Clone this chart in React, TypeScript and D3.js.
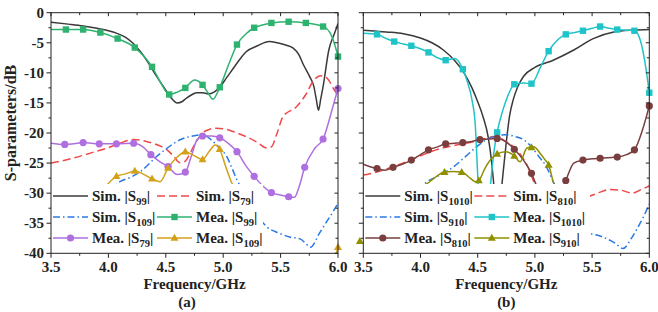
import React from "react";
import * as d3 from "d3";

type P = [number, number];

// ---------- Panel (a) ----------
const simS99: P[] = [[3.5,-1.6],[3.65,-1.9],[3.78,-2.2],[3.9,-2.6],[4.0,-3.0],[4.07,-3.4],[4.15,-4.1],[4.21,-5.0],[4.28,-6.5],[4.36,-8.7],[4.42,-10.6],[4.48,-12.3],[4.54,-14.0],[4.6,-15.0],[4.64,-14.8],[4.68,-14.2],[4.73,-13.6],[4.77,-13.3],[4.82,-13.3],[4.87,-13.5],[4.92,-13.2],[4.97,-12.4],[5.03,-10.8],[5.09,-9.2],[5.15,-7.6],[5.2,-6.5],[5.3,-5.5],[5.4,-4.8],[5.47,-5.0],[5.55,-5.4],[5.61,-5.9],[5.66,-7.0],[5.7,-8.7],[5.75,-10.5],[5.79,-12.3],[5.81,-14.3],[5.83,-16.2],[5.85,-14.3],[5.87,-12.3],[5.92,-6.2],[5.97,-3.4],[6.0,-1.8]];
const simS79: P[] = [[3.5,-25.0],[3.69,-24.2],[3.85,-23.3],[3.99,-22.5],[4.1,-21.7],[4.22,-21.1],[4.33,-21.4],[4.43,-22.0],[4.51,-22.8],[4.57,-23.9],[4.62,-24.9],[4.66,-24.8],[4.7,-23.8],[4.74,-22.3],[4.78,-21.0],[4.82,-20.0],[4.88,-19.4],[4.94,-19.2],[5.03,-19.4],[5.12,-20.0],[5.2,-20.6],[5.3,-21.6],[5.38,-22.5],[5.42,-22.3],[5.47,-20.0],[5.52,-17.3],[5.64,-15.6],[5.72,-13.6],[5.79,-11.2],[5.85,-10.5],[5.9,-10.8],[5.96,-12.6],[6.0,-13.8]];
const simS109: P[] = [[4.0,-29.8],[4.1,-28.1],[4.2,-27.3],[4.28,-26.4],[4.35,-25.2],[4.42,-23.9],[4.5,-22.7],[4.57,-21.7],[4.64,-21.0],[4.71,-20.6],[4.8,-20.3],[4.86,-20.6],[4.91,-21.4],[4.97,-22.5],[5.03,-23.9],[5.08,-26.0],[5.12,-27.8],[5.2,-30.5],[5.3,-33.8],[5.38,-35.6],[5.48,-36.6],[5.58,-37.3],[5.67,-37.6],[5.72,-38.4],[5.76,-39.0],[5.84,-36.6],[5.92,-34.2],[5.96,-33.0],[6.0,-31.7]];
const meaS99: P[] = [[3.5,-2.8],[3.63,-2.8],[3.78,-2.8],[3.93,-3.3],[4.08,-4.3],[4.23,-5.8],[4.38,-9.0],[4.46,-11.8],[4.53,-13.6],[4.6,-13.2],[4.67,-12.5],[4.75,-11.2],[4.82,-12.0],[4.87,-13.4],[4.91,-14.4],[4.97,-12.4],[5.05,-8.5],[5.12,-5.3],[5.2,-3.5],[5.27,-2.5],[5.35,-2.0],[5.42,-1.7],[5.57,-1.5],[5.72,-1.7],[5.87,-2.3],[5.93,-3.3],[5.97,-5.2],[6.0,-7.3]];
const meaS99Marks: P[] = [[3.63,-2.8],[3.78,-2.8],[3.93,-3.3],[4.08,-4.3],[4.23,-5.8],[4.38,-9.0],[4.53,-13.6],[4.67,-12.5],[4.82,-12.0],[4.97,-12.4],[5.12,-5.3],[5.27,-2.5],[5.42,-1.7],[5.57,-1.5],[5.72,-1.7],[5.87,-2.3],[6.0,-7.3]];
const meaS79: P[] = [[3.5,-21.7],[3.62,-21.9],[3.7,-21.8],[3.78,-21.6],[3.92,-21.8],[4.07,-21.8],[4.22,-21.7],[4.3,-22.3],[4.37,-23.6],[4.45,-24.8],[4.52,-25.6],[4.6,-26.9],[4.67,-26.5],[4.72,-24.0],[4.77,-21.2],[4.82,-20.5],[4.9,-20.5],[4.97,-20.8],[5.05,-21.8],[5.12,-23.1],[5.2,-25.5],[5.27,-27.2],[5.35,-28.9],[5.42,-29.9],[5.5,-30.3],[5.57,-30.6],[5.62,-30.7],[5.66,-29.0],[5.71,-25.7],[5.8,-22.5],[5.87,-21.0],[5.95,-16.0],[6.0,-12.6]];
const meaS79Marks: P[] = [[3.62,-21.9],[3.78,-21.6],[3.92,-21.8],[4.07,-21.8],[4.22,-21.7],[4.37,-23.6],[4.52,-25.6],[4.67,-26.5],[4.82,-20.5],[4.97,-20.8],[5.12,-23.1],[5.27,-27.2],[5.42,-29.9],[5.57,-30.6],[5.71,-25.7],[5.87,-21.0],[6.0,-12.6]];
const meaS109: P[] = [[3.95,-29.5],[4.07,-27.2],[4.15,-26.8],[4.23,-26.3],[4.3,-26.8],[4.38,-27.6],[4.45,-28.1],[4.52,-25.8],[4.6,-24.0],[4.67,-23.1],[4.75,-23.8],[4.82,-24.4],[4.88,-23.0],[4.93,-22.0],[4.97,-22.7],[5.02,-25.5],[5.07,-28.1],[5.15,-31.0],[5.25,-35.5],[5.35,-40.5],[5.45,-44],[5.9,-44],[6.0,-39.0]];
const meaS109Marks: P[] = [[4.07,-27.2],[4.23,-26.3],[4.38,-27.6],[4.52,-25.8],[4.67,-23.1],[4.82,-24.4],[4.97,-22.7],[5.12,-30.0],[6.0,-39.0]];

// ---------- Panel (b) ----------
const simS1010: P[] = [[3.5,-2.9],[3.7,-3.2],[3.85,-3.5],[4.0,-4.2],[4.1,-5.0],[4.2,-6.2],[4.3,-8.0],[4.38,-10.0],[4.45,-12.5],[4.5,-14.8],[4.55,-17.5],[4.59,-20.5],[4.62,-24.5],[4.65,-31],[4.67,-38],[4.69,-33],[4.72,-27],[4.75,-21.5],[4.78,-17],[4.81,-14.5],[4.85,-12.3],[4.9,-10.6],[5.0,-9.1],[5.16,-7.9],[5.34,-6.2],[5.51,-4.3],[5.69,-3.2],[5.86,-2.9],[6.0,-2.8]];
const simS810: P[] = [[3.5,-27.0],[3.6,-26.6],[3.76,-25.6],[3.9,-24.6],[4.05,-23.4],[4.17,-22.6],[4.29,-22.1],[4.4,-21.7],[4.49,-21.3],[4.57,-20.9],[4.64,-20.6],[4.72,-21.1],[4.78,-21.8],[4.84,-22.8],[4.89,-24.0],[4.93,-25.3],[4.99,-28.1],[5.05,-31],[5.15,-33],[5.3,-33],[5.4,-31.5],[5.45,-30.8],[5.55,-30.0],[5.65,-29.4],[5.75,-29.5],[5.85,-30.0],[5.93,-29.4],[6.0,-28.8]];
const simS910: P[] = [[3.8,-33],[3.95,-30],[4.05,-28.2],[4.17,-27],[4.29,-25.6],[4.4,-23.8],[4.49,-22.3],[4.57,-21.2],[4.64,-20.6],[4.75,-20.3],[4.83,-20.6],[4.9,-21.1],[4.97,-22.3],[5.03,-23.8],[5.1,-25.6],[5.16,-28.1],[5.25,-31.5],[5.35,-34.5],[5.47,-36.6],[5.55,-37.0],[5.63,-37.6],[5.7,-38.3],[5.77,-39.2],[5.85,-37.3],[5.92,-35.0],[5.96,-33.5],[6.0,-31.8]];
const meaS1010: P[] = [[3.5,-3.4],[3.62,-3.6],[3.7,-4.3],[3.77,-4.8],[3.85,-5.2],[3.92,-5.5],[4.0,-6.0],[4.07,-6.6],[4.15,-7.5],[4.22,-7.9],[4.3,-7.6],[4.37,-9.4],[4.41,-11.5],[4.45,-14.5],[4.48,-19],[4.5,-27],[4.52,-34],[4.56,-38],[4.59,-33],[4.62,-27],[4.64,-23.4],[4.67,-19.9],[4.72,-16.2],[4.78,-13.1],[4.82,-11.9],[4.9,-11.7],[4.97,-11.8],[5.05,-9.0],[5.12,-6.4],[5.2,-4.5],[5.27,-3.6],[5.35,-3.3],[5.42,-3.0],[5.5,-2.6],[5.57,-2.3],[5.65,-2.6],[5.72,-2.8],[5.8,-2.9],[5.87,-3.0],[5.92,-4.5],[5.96,-8.0],[6.0,-13.3]];
const meaS1010Marks: P[] = [[3.62,-3.6],[3.77,-4.8],[3.92,-5.5],[4.07,-6.6],[4.22,-7.9],[4.37,-9.4],[4.52,-34],[4.67,-19.9],[4.82,-11.9],[4.97,-11.8],[5.12,-6.4],[5.27,-3.6],[5.42,-3.0],[5.57,-2.3],[5.72,-2.8],[5.87,-3.0],[6.0,-13.3]];
const meaS810: P[] = [[3.5,-25.2],[3.56,-25.6],[3.62,-25.9],[3.69,-26.2],[3.76,-25.7],[3.84,-25.2],[3.92,-24.5],[4.0,-23.6],[4.07,-22.8],[4.15,-22.3],[4.22,-21.8],[4.3,-21.7],[4.37,-21.6],[4.45,-21.4],[4.52,-21.1],[4.6,-21.0],[4.67,-20.9],[4.75,-21.5],[4.82,-22.7],[4.9,-24.5],[4.97,-26.7],[5.03,-29.5],[5.1,-32],[5.2,-31],[5.27,-27.9],[5.34,-25.0],[5.42,-24.5],[5.5,-24.3],[5.57,-24.2],[5.64,-24.1],[5.72,-24.0],[5.8,-23.6],[5.87,-22.8],[5.94,-19.5],[6.0,-15.5]];
const meaS810Marks: P[] = [[3.62,-25.9],[3.76,-25.7],[3.92,-24.5],[4.07,-22.8],[4.22,-21.8],[4.37,-21.6],[4.52,-21.1],[4.67,-20.9],[4.82,-22.7],[4.97,-26.7],[5.12,-32],[5.27,-27.9],[5.42,-24.5],[5.57,-24.2],[5.72,-24.0],[5.87,-22.8],[6.0,-15.5]];
const meaS910: P[] = [[3.47,-38.0],[3.7,-36],[3.9,-32],[4.02,-29],[4.08,-28.1],[4.14,-27.2],[4.21,-26.5],[4.28,-26.4],[4.36,-26.5],[4.44,-27.6],[4.48,-28.1],[4.51,-27.9],[4.56,-26.0],[4.61,-24.5],[4.67,-23.5],[4.74,-23.1],[4.82,-23.8],[4.87,-24.8],[4.93,-22.5],[4.99,-22.3],[5.05,-23.5],[5.09,-24.5],[5.12,-25.3],[5.16,-28.1],[5.22,-31],[5.3,-34]];
const meaS910Marks: P[] = [[3.47,-38.0],[4.21,-26.5],[4.36,-26.5],[4.51,-27.9],[4.67,-23.5],[4.82,-23.8],[4.97,-22.4],[5.12,-25.3]];

const xTicks = [3.5, 4.0, 4.5, 5.0, 5.5, 6.0];
const yTicks = [0, -5, -10, -15, -20, -25, -30, -35, -40];

const FONT = "'Liberation Serif', 'Times New Roman', serif";
const C = {
  black: "#3a3a3a",
  red: "#f04848",
  blue: "#2a78e4",
  green: "#2db36f",
  purple: "#b06fe0",
  gold: "#d4a017",
  cyan: "#1fc4c8",
  brown: "#7a3e3e",
  olive: "#8f8f00",
};

type Series = {
  data: P[];
  marks?: P[];
  color: string;
  dash?: string;
  shape?: "square" | "circle" | "triangle";
  label: [string, string, string];
};

const TOP = 12.7;
const BOT = 253.3;

function Marker({ x, y, shape, color }: { x: number; y: number; shape?: string; color: string }) {
  if (shape === "square") return <rect x={x - 3.2} y={y - 3.2} width={6.4} height={6.4} fill={color} />;
  if (shape === "circle") return <circle cx={x} cy={y} r={3.6} fill={color} />;
  if (shape === "triangle")
    return <path d={`M${x},${y - 4.2}L${x + 4},${y + 2.8}L${x - 4},${y + 2.8}Z`} fill={color} />;
  return null;
}

function Panel({ id, x0, x1, series, showYLabels, legendRight, tag }: {
  id: string; x0: number; x1: number; series: Series[]; showYLabels: boolean; legendRight: number; tag: string;
}) {
  const x = d3.scaleLinear().domain([3.5, 6.0]).range([x0, x1]);
  const y = d3.scaleLinear().domain([-40, 0]).range([BOT, TOP]);
  const line = d3.line<P>().x((d) => x(d[0])).y((d) => y(d[1])).curve(d3.curveMonotoneX);
  const minorX = d3.range(3.5, 6.001, 0.25);
  const minorY = d3.range(-40, 0.001, 2.5);
  const legTop = 184;
  const rows = [196, 217, 238];
  const col1Line = x0 + 2;
  const colW = id === "a" ? 104 : 109;
  return (
    <g>
      <defs>
        <clipPath id={`clip-${id}`}>
          <rect x={x0} y={TOP} width={x1 - x0} height={BOT - TOP} />
        </clipPath>
      </defs>
      <g clipPath={`url(#clip-${id})`}>
        {series.map((s, i) => (
          <path key={i} d={line(s.data) || ""} fill="none" stroke={s.color} strokeWidth={1.5}
            strokeDasharray={s.dash} />
        ))}
      </g>
      {series.map((s, i) => (
        <g key={i}>
          {(s.marks || []).map((m, j) => (
            <Marker key={j} x={x(m[0])} y={y(m[1])} shape={s.shape} color={s.color} />
          ))}
        </g>
      ))}
      {/* legend */}
      <rect x={x0 + 0.5} y={legTop} width={legendRight - x0 - 0.5} height={BOT - legTop - 1} fill="#fff" />
      {series.map((s, i) => {
        const row = rows[Math.floor(i / 2)];
        const lx = col1Line + (i % 2) * colW;
        return (
          <g key={i}>
            <line x1={lx} x2={lx + 35} y1={row} y2={row} stroke={s.color} strokeWidth={1.5} strokeDasharray={s.dash} />
            <Marker x={lx + 17.5} y={row} shape={s.shape} color={s.color} />
            <text x={lx + 39} y={row + 5} fontFamily={FONT} fontWeight="bold" fontSize={15} fill="#222">
              {s.label[0]}
              <tspan fontSize={10.5} dy={4}>{s.label[1]}</tspan>
              <tspan dy={-4}>{s.label[2]}</tspan>
            </text>
          </g>
        );
      })}
      {/* axes frame */}
      <rect x={x0} y={TOP} width={x1 - x0} height={BOT - TOP} fill="none" stroke="#222" strokeWidth={1} />
      {minorX.map((t, i) => {
        const major = Math.abs((t - 3.5) % 0.5) < 1e-6 || Math.abs(((t - 3.5) % 0.5) - 0.5) < 1e-6;
        return (
          <g key={i}>
            <line x1={x(t)} x2={x(t)} y1={BOT} y2={BOT + (major ? 4.5 : 2.5)} stroke="#222" />
            <line x1={x(t)} x2={x(t)} y1={TOP} y2={TOP + (major ? 3.5 : 2.5)} stroke="#222" />
          </g>
        );
      })}
      {minorY.map((t, i) => {
        const major = Math.abs(t % 5) < 1e-6;
        return (
          <g key={i}>
            <line x1={x0} x2={x0 - (major ? 4.5 : 2.5)} y1={y(t)} y2={y(t)} stroke="#222" />
            <line x1={x1} x2={x1 - (major ? 3.5 : 2.5)} y1={y(t)} y2={y(t)} stroke="#222" />
          </g>
        );
      })}
      {xTicks.map((t) => (
        <text key={t} x={x(t)} y={272} textAnchor="middle" fontFamily={FONT} fontWeight="bold" fontSize={15} fill="#222">
          {t.toFixed(1)}
        </text>
      ))}
      {showYLabels && yTicks.map((t) => (
        <text key={t} x={x0 - 7} y={y(t) + 5} textAnchor="end" fontFamily={FONT} fontWeight="bold" fontSize={15} fill="#222">
          {t === 0 ? "0" : `-${Math.abs(t)}`}
        </text>
      ))}
      <text x={(x0 + x1) / 2} y={289} textAnchor="middle" fontFamily={FONT} fontWeight="bold" fontSize={15} fill="#222">
        Frequency/GHz
      </text>
      <text x={id === "a" ? 187 : (x0 + x1) / 2} y={307} textAnchor="middle" fontFamily={FONT} fontWeight="bold" fontSize={15} fill="#222">
        {tag}
      </text>
    </g>
  );
}

export default function App() {
  const seriesA: Series[] = [
    { data: simS99, color: C.black, label: ["Sim. |S", "99", "|"] },
    { data: simS79, color: C.red, dash: "8,4", label: ["Sim. |S", "79", "|"] },
    { data: simS109, color: C.blue, dash: "7,3,1.5,3", label: ["Sim. |S", "109", "|"] },
    { data: meaS99, marks: meaS99Marks, color: C.green, shape: "square", label: ["Mea. |S", "99", "|"] },
    { data: meaS79, marks: meaS79Marks, color: C.purple, shape: "circle", label: ["Mea. |S", "79", "|"] },
    { data: meaS109, marks: meaS109Marks, color: C.gold, shape: "triangle", label: ["Mea. |S", "109", "|"] },
  ];
  const seriesB: Series[] = [
    { data: simS1010, color: C.black, label: ["Sim. |S", "1010", "|"] },
    { data: simS810, color: C.red, dash: "8,4", label: ["Sim. |S", "810", "|"] },
    { data: simS910, color: C.blue, dash: "7,3,1.5,3", label: ["Sim. |S", "910", "|"] },
    { data: meaS1010, marks: meaS1010Marks, color: C.cyan, shape: "square", label: ["Mea. |S", "1010", "|"] },
    { data: meaS810, marks: meaS810Marks, color: C.brown, shape: "circle", label: ["Mea. |S", "810", "|"] },
    { data: meaS910, marks: meaS910Marks, color: C.olive, shape: "triangle", label: ["Mea. |S", "910", "|"] },
  ];
  return (
    <svg width={658} height={312} style={{ position: "absolute", left: 0, top: 0, background: "#fff" }}>
      <rect width={658} height={312} fill="#fff" />
      <Panel id="a" x0={51} x1={338} series={seriesA} showYLabels legendRight={263} tag="(a)" />
      <Panel id="b" x0={363.3} x1={649.3} series={seriesB} showYLabels={false} legendRight={590} tag="(b)" />
      <text transform="translate(16,123) rotate(-90)" textAnchor="middle" fontFamily={FONT} fontWeight="bold" fontSize={16} fill="#222">
        S-parameters/dB
      </text>
    </svg>
  );
}
